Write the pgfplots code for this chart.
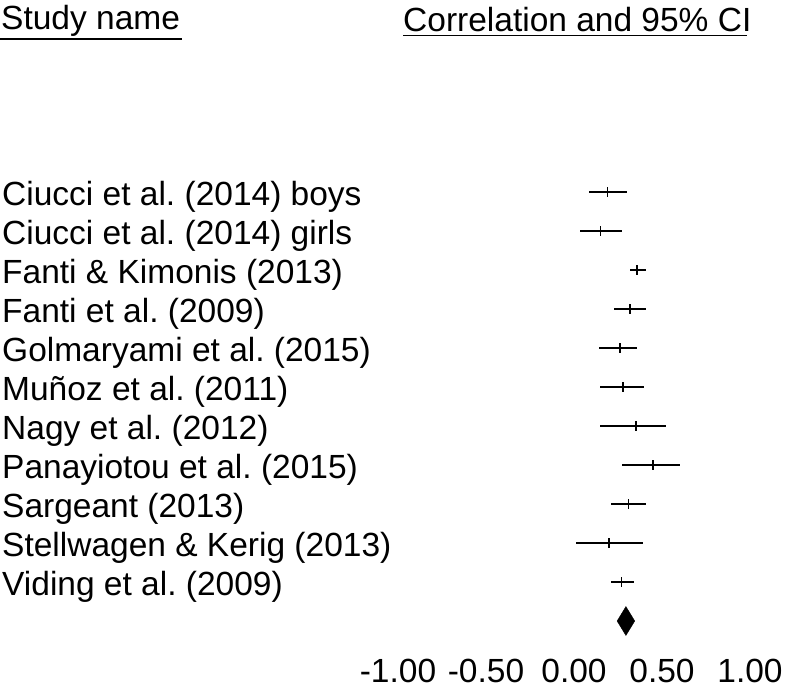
\documentclass[border=0pt]{standalone}
\usepackage{fontspec}
\setmainfont{Liberation Sans}
\usepackage{pgfplots}
\pgfplotsset{compat=1.18}
\usepackage{pgfplotstable}
\frenchspacing

% row, estimate, lower, upper (correlations)
\pgfplotstableread{
row est lo hi
1  0.19 0.085 0.30
2  0.15 0.035 0.27
3  0.36 0.32  0.41
4  0.32 0.23  0.41
5  0.26 0.14  0.36
6  0.28 0.15  0.40
7  0.35 0.15  0.52
8  0.45 0.27  0.60
9  0.31 0.21  0.41
10 0.20 0.01  0.39
11 0.27 0.21  0.34
}\studies

\newcommand\bigfont{\fontsize{33.5}{40}\selectfont}

\begin{document}
\begin{tikzpicture}
\begin{axis}[
    scale only axis,
    width=790pt, height=693pt,
    xmin=-3.2614, xmax=1.2273,
    ymin=-3.923, ymax=13.846,
    y dir=reverse,
    clip=false,
    axis line style={draw=none},
    tick style={draw=none},
    xtick={-1,-0.5,0,0.5,1},
    xticklabels={-1.00,-0.50,0.00,0.50,1.00},
    xticklabel style={font=\bigfont, anchor=base, inner sep=0pt, yshift=11pt},
    ytick={1,...,11},
    yticklabels={
        {Ciucci et al. (2014) boys},
        {Ciucci et al. (2014) girls},
        {Fanti \& Kimonis (2013)},
        {Fanti et al. (2009)},
        {Golmaryami et al. (2015)},
        {Muñoz et al. (2011)},
        {Nagy et al. (2012)},
        {Panayiotou et al. (2015)},
        {Sargeant (2013)},
        {Stellwagen \& Kerig (2013)},
        {Viding et al. (2009)}},
    yticklabel style={font=\bigfont, anchor=base west, inner sep=0pt,
        xshift=2pt, yshift=-13.5pt},
]
% confidence intervals with point estimates
\addplot[black, line width=1.8pt, mark=|, mark size=5pt,
    mark options={line width=1.8pt},
    only marks,
    error bars/.cd, x dir=both, x explicit, error mark=none,
    error bar style={line width=1.8pt}]
    table[x=est, y=row,
          x error plus expr=\thisrow{hi}-\thisrow{est},
          x error minus expr=\thisrow{est}-\thisrow{lo}] {\studies};
% summary effect
\addplot[black, fill=black] coordinates {
    (0.245,12) (0.295,11.63) (0.345,12) (0.295,12.37)} -- cycle;
\end{axis}
\begin{scope}[shift={(current axis.north west)}, x=1pt, y=-1pt]
\node[font=\bigfont, anchor=base west, inner sep=0pt] at (1,30) {Study name};
\draw[line width=1.5pt] (0,39) -- (182,39);
\node[font=\bigfont, anchor=base west, inner sep=0pt] at (403,32) {Correlation and 95\% CI};
\draw[line width=1.5pt] (403,35.5) -- (747,35.5);
\end{scope}
\pgfresetboundingbox
\useasboundingbox (current axis.south west) rectangle (current axis.north east);
\end{tikzpicture}
\end{document}
